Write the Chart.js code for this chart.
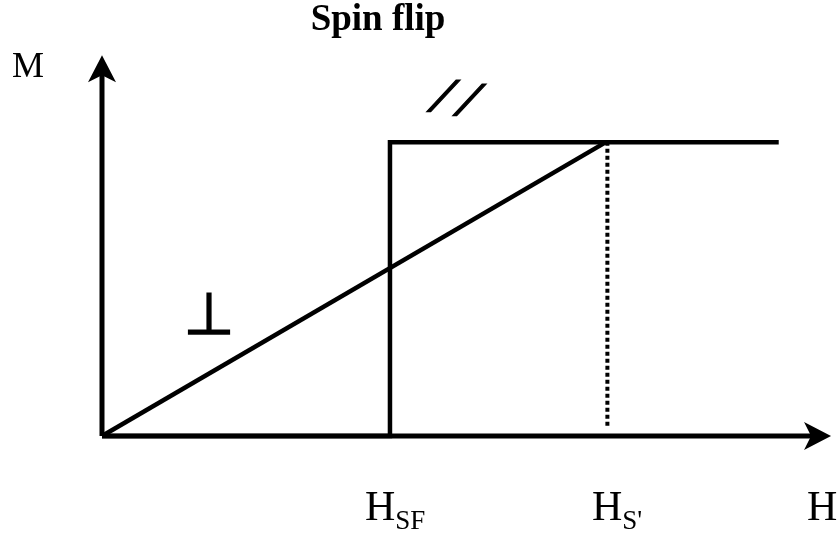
<!DOCTYPE html>
<html>
<head>
<meta charset="utf-8">
<script src="https://cdn.jsdelivr.net/npm/chart.js@4/dist/chart.umd.min.js"></script>
<style>
  html, body { margin: 0; padding: 0; background: #fff; }
  canvas { display: block; }
</style>
</head>
<body>
<canvas id="chart" width="837" height="537"></canvas>
<script>
// field values in units of H_SF, magnetisation in units of M_sat
const fieldMarks = [1, 1.75];            // H_SF, H_S'
const fieldNames = ["SF", "S'"];
const perpH = [0, 1.75];                 // perpendicular branch
const perpM = [0, 1];
const parH = [0, 1, 1, 2.35];            // parallel branch (spin flip step)
const parM = [0, 0, 1, 1];
const satH = [1.755, 1.755];             // dotted drop at H_S'
const satM = [0.035, 1];
const xAxisH = [0, 2.49];
const xAxisM = [0, 0];
const yAxisH = [0, 0];
const yAxisM = [0, 1.255];

const pts = (xs, ys) => xs.map((x, i) => ({ x: x, y: ys[i] }));

const serif = '"Liberation Serif", "Times New Roman", serif';

function arrowHead(ctx, x, y, angle) {
  ctx.save();
  ctx.translate(x, y);
  ctx.rotate(angle);
  ctx.beginPath();
  ctx.moveTo(0, 0);
  ctx.lineTo(-27, -14);
  ctx.lineTo(-20, 0);
  ctx.lineTo(-27, 14);
  ctx.closePath();
  ctx.fill();
  ctx.restore();
}

const decorations = {
  id: "decorations",
  afterDraw(chart) {
    const { ctx, scales: { x, y } } = chart;
    ctx.save();
    ctx.fillStyle = "#000";
    ctx.strokeStyle = "#000";

    // axis arrows
    arrowHead(ctx, x.getPixelForValue(xAxisH[1]) + 12, y.getPixelForValue(0), 0);
    arrowHead(ctx, x.getPixelForValue(0), y.getPixelForValue(yAxisM[1]) - 12, -Math.PI / 2);

    // title
    ctx.textBaseline = "alphabetic";
    ctx.textAlign = "center";
    ctx.font = "bold 37px " + serif;
    ctx.fillText("Spin flip", 378, 30);

    // axis names
    ctx.textAlign = "left";
    ctx.font = "36px " + serif;
    ctx.fillText("M", 12, 77);
    ctx.font = "42px " + serif;
    ctx.fillText("H", 807, 520);

    // field marks with subscripts
    const offsets = [-25, -14];
    fieldMarks.forEach((v, i) => {
      const left = x.getPixelForValue(v) + offsets[i];
      ctx.font = "42px " + serif;
      ctx.fillText("H", left, 520);
      const w = ctx.measureText("H").width;
      ctx.font = "27px " + serif;
      ctx.fillText(fieldNames[i], left + w, 529);
    });

    // branch symbols
    ctx.textAlign = "center";
    ctx.lineWidth = 1.6;
    ctx.font = "58px \"DejaVu Sans\"";
    ctx.fillText("\u22A5", 209, 334);
    ctx.strokeText("\u22A5", 209, 334);

    ctx.font = "bold 38px \"DejaVu Sans\"";
    ctx.lineWidth = 1.4;
    [[0, 0], [26, 4]].forEach(([dx, dy]) => {
      ctx.save();
      ctx.translate(436 + dx, 108 + dy);
      ctx.transform(1, 0, -0.62, 1, 0, 0);
      ctx.fillText("/", 0, 0);
      ctx.strokeText("/", 0, 0);
      ctx.restore();
    });

    ctx.restore();
  }
};

const line = (data, extra) => Object.assign({
  data: data,
  borderColor: "#000",
  borderWidth: 5,
  pointRadius: 0,
  tension: 0,
  fill: false,
  clip: false,
  borderJoinStyle: "miter",
  showLine: true
}, extra || {});

new Chart(document.getElementById("chart"), {
  type: "scatter",
  data: {
    datasets: [
      line(pts(xAxisH, xAxisM)),
      line(pts(yAxisH, yAxisM)),
      line(pts(perpH, perpM), { borderWidth: 4.5 }),
      line(pts(parH, parM), { borderWidth: 4.5 }),
      line(pts(satH, satM), { borderWidth: 4, borderDash: [4, 3] })
    ]
  },
  options: {
    responsive: false,
    animation: false,
    layout: { padding: { left: 102, right: 5, top: 54, bottom: 101 } },
    plugins: { legend: { display: false }, tooltip: { enabled: false } },
    scales: {
      x: { type: "linear", min: 0, max: 2.535, display: false },
      y: { type: "linear", min: 0, max: 1.3, display: false }
    }
  },
  plugins: [decorations]
});
</script>
</body>
</html>
